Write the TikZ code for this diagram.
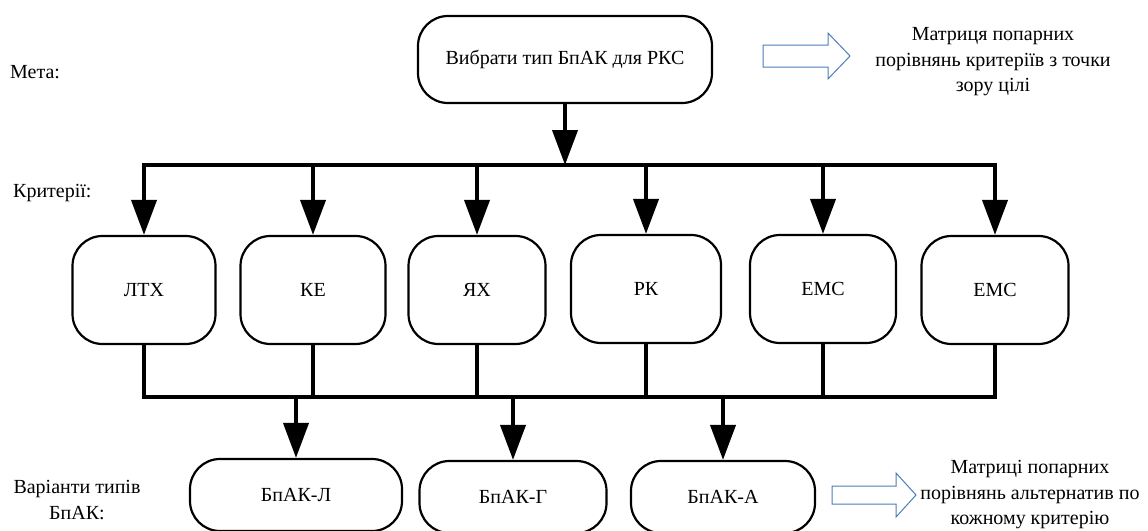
\documentclass[tikz,border=0pt]{standalone}
\usepackage{fontspec}
\setmainfont{Liberation Serif}
\newfontfamily\labelfont{Liberation Serif}
\usetikzlibrary{arrows.meta,calc}
\definecolor{arrowblue}{HTML}{4A7EBB}
\begin{document}
\begin{tikzpicture}[x=1pt,y=-1pt,
  every node/.style={font=\labelfont\fontsize{20}{25.5}\selectfont, text=black},
  rbox/.style={draw, line width=2.2pt, rounded corners=30pt, align=center, inner sep=0pt},
  critbox/.style={rbox, minimum height=108pt},
  altbox/.style={rbox, minimum height=72pt},
  bus/.style={line width=4pt, line cap=rect, line join=miter},
  feed/.style={line width=4pt, -{Triangle[length=35pt,width=25pt]}},
  hollow/.style={draw=arrowblue, line width=1pt, line join=miter, fill=white},
  note/.style={align=center, inner sep=0pt},
  side/.style={anchor=west, inner sep=0pt},
]
\useasboundingbox (0,0) rectangle (1148,530);

% goal
\node[rbox, minimum width=294pt, minimum height=87pt] (goal) at (565,59.5) {Вибрати тип БпАК для РКС};

% criteria
\node[critbox, minimum width=143pt] (c1) at (144,290) {ЛТХ};
\node[critbox, minimum width=145pt] (c2) at (313,290) {КЕ};
\node[critbox, minimum width=137pt] (c3) at (477,290) {ЯХ};
\node[critbox, minimum width=150pt] (c4) at (646,289) {РК};
\node[critbox, minimum width=146pt] (c5) at (823,289) {ЕМС};
\node[critbox, minimum width=147pt] (c6) at (995,290) {ЕМС};

% alternatives
\node[altbox, minimum width=212pt] (a1) at (296,495) {БпАК-Л};
\node[altbox, minimum width=187pt] (a2) at (513,497) {БпАК-Г};
\node[altbox, minimum width=184pt] (a3) at (723,497) {БпАК-А};

% level labels
\node[side] (lgoal) at (10,72) {Мета:};
\node[side] (lcrit) at (13,193) {Критерії:};
\node[note] (lalt) at (77,500) {Варіанти типів\\БпАК:};

% result notes
\node[note] (ngoal) at (993,62) {Матриця попарних\\порівнянь критеріїв з точки\\зору цілі};
\node[note] (nalt) at (1030,495) {Матриці попарних\\порівнянь альтернатив по\\кожному критерію};

% bus levels
\coordinate (upper) at (0,165);
\coordinate (lower) at (0,397);

% goal -> criteria
\draw[feed] (goal.south) -- (goal.south |- upper);
\draw[bus] (c1.north |- upper) -- (c6.north |- upper);
\foreach \c in {c1,c2,c3,c4,c5,c6}
  \draw[feed] (\c.north |- upper) -- (\c.north);

% criteria -> alternatives
\draw[bus] (c1.south) -- (c1.south |- lower) -- (c6.south |- lower) -- (c6.south);
\foreach \c in {c2,c3,c4,c5}
  \draw[bus] (\c.south) -- (\c.south |- lower);
\foreach \a in {a1,a2,a3}
  \draw[feed] (\a.north |- lower) -- (\a.north);

% hollow block arrows pointing to the notes
\draw[hollow] (763,45) -- (828,45) -- (828,33) -- (850,56) -- (828,79) -- (828,67) -- (763,67) -- cycle;
\draw[hollow] (832,486) -- (896,486) -- (896,473) -- (916,495) -- (896,517) -- (896,504) -- (832,504) -- cycle;
\end{tikzpicture}
\end{document}
